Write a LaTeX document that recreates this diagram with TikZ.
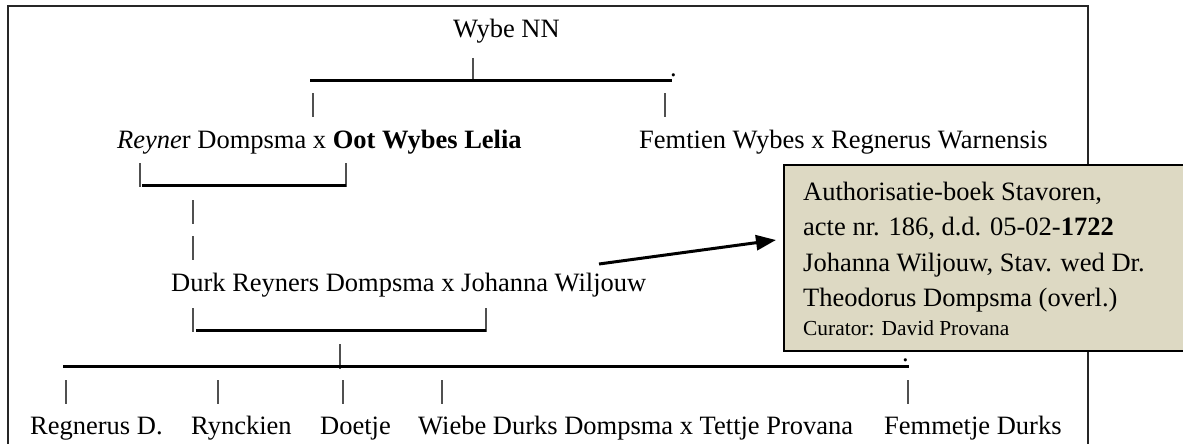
\documentclass[tikz,border=0pt]{standalone}
\usepackage{fontspec}
\setmainfont{Liberation Serif}
\usetikzlibrary{arrows.meta}
\definecolor{boxfill}{HTML}{DDD9C3}
\definecolor{tickgray}{HTML}{505050}
\begin{document}
\begin{tikzpicture}[x=1pt,y=-1pt,
  txt/.style={inner sep=0pt, anchor=base west, font=\fontsize{26.5}{32}\selectfont},
  smalltxt/.style={inner sep=0pt, anchor=base west, font=\fontsize{21.4}{26}\selectfont},
  famline/.style={line width=3pt, black},
  tickline/.style={line width=1.5pt, tickgray},
  framestyle/.style={line width=2.5pt, black!85},
  notebox/.style={draw=black, line width=2pt, fill=boxfill, inner sep=0pt, anchor=north west, minimum width=440pt, minimum height=186pt},
  notearrow/.style={line width=3pt, -{Triangle[length=20pt,width=15pt]}},
]
\useasboundingbox (0,0) rectangle (1183,444);
% outer frame
\coordinate (fa) at (8,6);
\coordinate (fb) at (1088,480);
\draw[framestyle] (fa) rectangle (fb);

% generation 1
\node[txt] (wybe) at (453,38) {Wybe NN};
\coordinate (w1) at (473,58); \coordinate (w2) at (473,82);
\draw[tickline] (w1) -- (w2);
\coordinate (l1a) at (310,80); \coordinate (l1b) at (672,80);
\draw[famline] (l1a) -- (l1b);
\node[txt] (dot1) at (670,76.5) {.};
\coordinate (t1a) at (313,93); \coordinate (t1b) at (313,117);
\coordinate (t2a) at (665,93); \coordinate (t2b) at (665,117);
\draw[tickline] (t1a) -- (t1b);
\draw[tickline] (t2a) -- (t2b);

% generation 2
\node[txt] (reyner) at (117,148) {\textit{Reyne}r Dompsma x \textbf{Oot Wybes Lelia}};
\node[txt] (femtien) at (639,148) {Femtien Wybes x Regnerus Warnensis};
\coordinate (m1a) at (140,163); \coordinate (m1b) at (140,187);
\coordinate (m2a) at (346,163); \coordinate (m2b) at (346,187);
\draw[tickline] (m1a) -- (m1b);
\draw[tickline] (m2a) -- (m2b);
\coordinate (l2a) at (142,185); \coordinate (l2b) at (346,185);
\draw[famline] (l2a) -- (l2b);
\coordinate (v1a) at (193,200); \coordinate (v1b) at (193,224);
\coordinate (v2a) at (193,236); \coordinate (v2b) at (193,260);
\draw[tickline] (v1a) -- (v1b);
\draw[tickline] (v2a) -- (v2b);

% generation 3
\node[txt] (durk) at (171,291) {Durk Reyners Dompsma x Johanna Wiljouw};
\coordinate (n1a) at (193,308); \coordinate (n1b) at (193,332);
\coordinate (n2a) at (486,308); \coordinate (n2b) at (486,332);
\draw[tickline] (n1a) -- (n1b);
\draw[tickline] (n2a) -- (n2b);
\coordinate (l3a) at (196,330); \coordinate (l3b) at (486,330);
\draw[famline] (l3a) -- (l3b);
\coordinate (c1a) at (340,344); \coordinate (c1b) at (340,369);
\draw[tickline] (c1a) -- (c1b);
\coordinate (l4a) at (63,366); \coordinate (l4b) at (909,366);
\draw[famline] (l4a) -- (l4b);
\node[txt] (dot2) at (902,361) {.};

% generation 4
\foreach \x/\nm in {66/k1,218/k2,343/k3,442/k4,908/k5}{
  \coordinate (\nm a) at (\x,380); \coordinate (\nm b) at (\x,404);
  \draw[tickline] (\nm a) -- (\nm b);
}
\node[txt] (regnerus) at (30,434) {Regnerus D.};
\node[txt] (rynckien) at (191,434) {Rynckien};
\node[txt] (doetje) at (320,434) {Doetje};
\node[txt] (wiebe) at (418,434) {Wiebe Durks Dompsma x Tettje Provana};
\node[txt] (femmetje) at (884,434) {Femmetje Durks};

% note box
\node[notebox] (akte) at (783,164) {};
\node[txt] (a1) at (803,200) {Authorisatie-boek Stavoren,};
\node[txt] (a2) at (803,235.5) {acte nr. 186, d.d. 05-02-\textbf{1722}};
\node[txt] (a3) at (803,271) {Johanna Wiljouw, Stav. wed Dr.};
\node[txt] (a4) at (803,306.5) {Theodorus Dompsma (overl.)};
\node[smalltxt] (a5) at (803,335) {Curator: David Provana};
\coordinate (arrstart) at (599,264);
\coordinate (arrtip) at (776,240);
\draw[notearrow] (arrstart) -- (arrtip);
\end{tikzpicture}
\end{document}
